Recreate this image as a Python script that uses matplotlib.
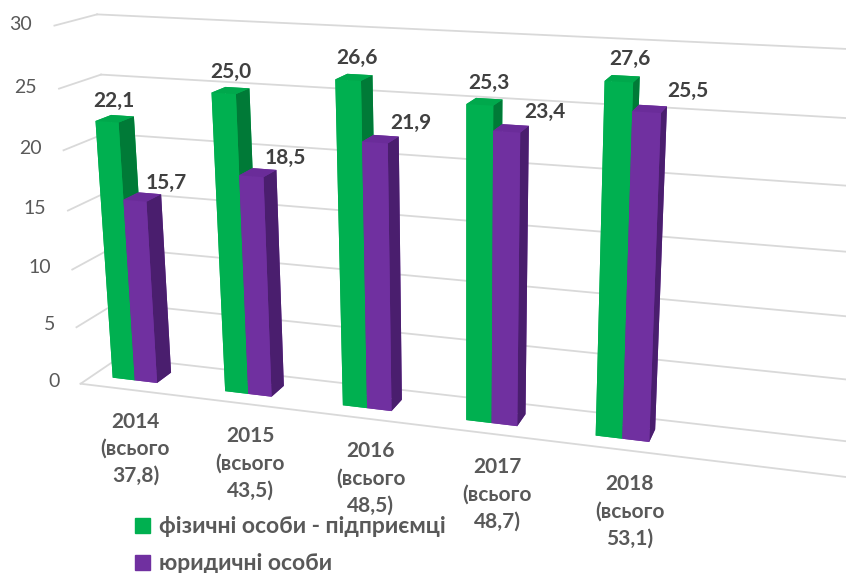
import numpy as np
import matplotlib.pyplot as plt
from matplotlib.patches import Patch
from mpl_toolkits.mplot3d import proj3d

# data
years = ['2014', '2015', '2016', '2017', '2018']
totals = ['37,8', '43,5', '48,5', '48,7', '53,1']
fop = [22.1, 25.0, 26.6, 25.3, 27.6]      # фізичні особи - підприємці
legal = [15.7, 18.5, 21.9, 23.4, 25.5]    # юридичні особи
yticks = [0, 5, 10, 15, 20, 25, 30]
series_names = ['фізичні особи - підприємці', 'юридичні особи']

green = ['#00B050', '#00A84C', '#00B050', '#00B050', '#00B050', '#007A37']
purple = ['#7030A0', '#6A2C99', '#7030A0', '#7030A0', '#7030A0', '#4A1E6E']
grid_c = '#D9D9D9'
txt_c = '#595959'
lbl_c = '#404040'

plt.rcParams['font.family'] = ['Lato', 'DejaVu Sans']

fig = plt.figure(figsize=(8.46, 5.73), dpi=100)
ax = fig.add_axes([-0.11, 0.081, 1.3, 1.0], projection='3d', computed_zorder=False)
ax.set_proj_type('persp', focal_length=0.5)
ax.view_init(elev=16, azim=-73)

x0, x1 = -0.5, 6.0
d0, d1 = 0.0, 0.6
xw = -0.38   # left wall position
ax.set_xlim(x0, x1)
ax.set_ylim(d0, d1)
ax.set_zlim(0, 30)
ax.set_box_aspect((6.2, d1 - d0, 2.75), zoom=1.635)
ax.set_axis_off()


def label(x, y, z, s, **kw):
    # place 2D text at the projected position of a 3D point
    xp, yp, _ = proj3d.proj_transform(x, y, z, ax.get_proj())
    ax.text2D(xp, yp, s, transform=ax.transData, clip_on=False, **kw)


# gridlines on back wall and left wall, floor front edge
for v in yticks:
    ax.plot([xw, x1], [d1, d1], [v, v], color=grid_c, lw=1.3, zorder=1)
    ax.plot([xw, xw], [d0, d1], [v, v], color=grid_c, lw=1.3, zorder=1)
    label(xw - 0.19, d0, v, str(v), ha='right', va='center', fontsize=14, color=txt_c)
ax.plot([xw, x1], [d0, d0], [0, 0], color=grid_c, lw=1.3, zorder=1)

w = 0.2
bd = 0.23
yb = (d1 - d0 - bd) / 2
for i in range(len(years)):
    ax.bar3d(i - w, yb, 0, w, bd, fop[i], color=green, shade=False, zorder=2)
    ax.bar3d(i, yb, 0, w, bd, legal[i], color=purple, shade=False, zorder=3)
    label(i - w / 2 + 0.07, yb, fop[i] + 1.7, f'{fop[i]:.1f}'.replace('.', ','),
          ha='center', va='center', fontsize=15, fontweight='bold', color=lbl_c)
    label(i + w / 2 + 0.28, yb, legal[i] + 1.7, f'{legal[i]:.1f}'.replace('.', ','),
          ha='center', va='center', fontsize=15, fontweight='bold', color=lbl_c)
    label(i + 0.1, d0, -1.9, f'{years[i]}\n(всього\n{totals[i]})', ha='center', va='top',
          fontsize=15, fontweight='bold', color=txt_c, linespacing=1.45)

for art in ax.lines + ax.collections:
    art.set_clip_on(False)

handles = [Patch(color=green[0]), Patch(color=purple[0])]
fig.legend(handles, series_names, loc='upper left', bbox_to_anchor=(0.135, 0.135),
           frameon=False, labelcolor=txt_c, prop={'size': 16.5, 'weight': 'bold'},
           handlelength=0.65, handleheight=0.65, handletextpad=0.4, labelspacing=0.7)

fig.savefig('out.png', dpi=100)
